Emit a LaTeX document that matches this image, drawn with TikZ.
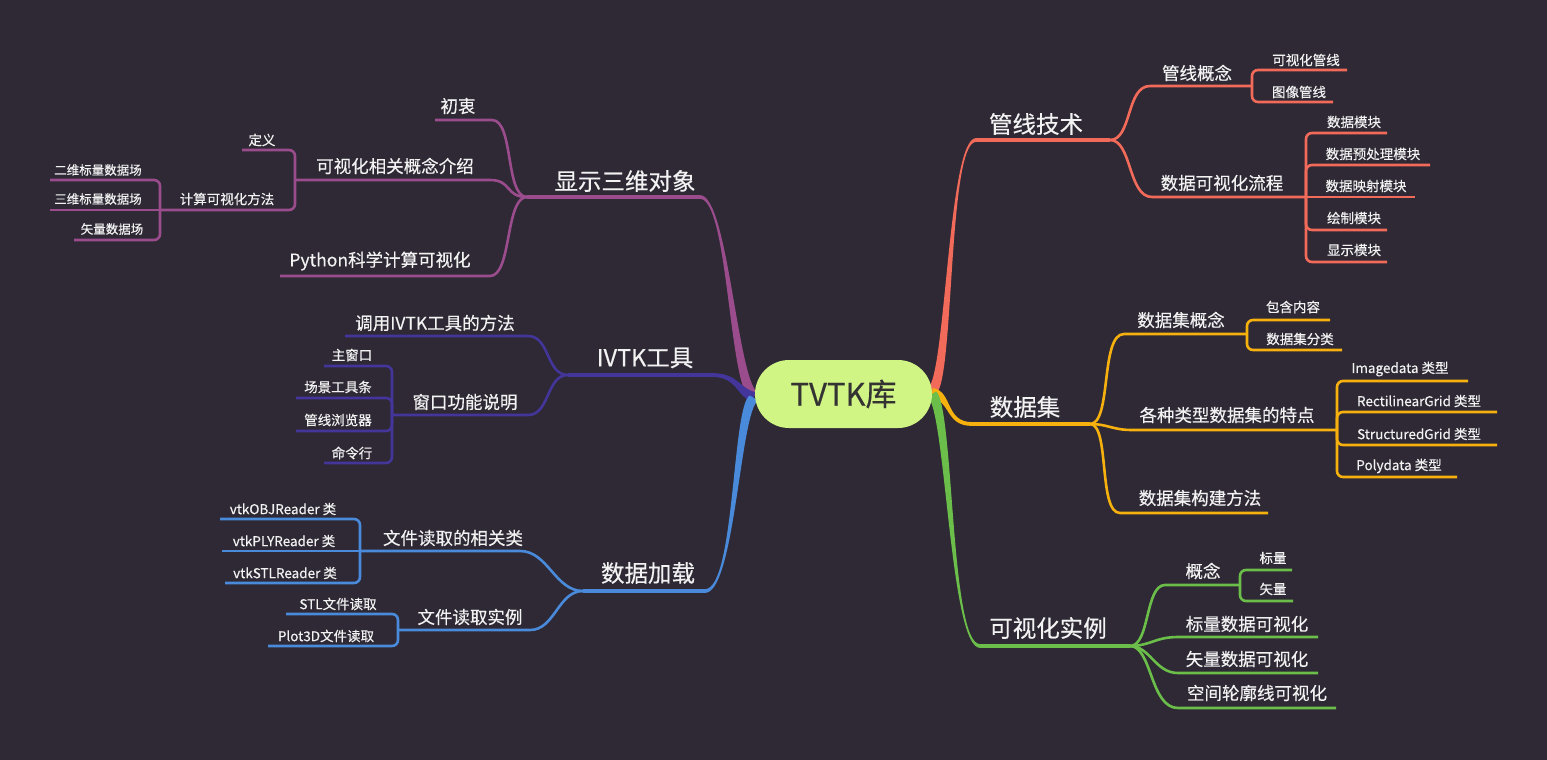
\documentclass[tikz,border=0pt]{standalone}
\usepackage{fontspec}
\usetikzlibrary{calc}
\setmainfont{Noto Sans CJK SC}[FakeBold=0.35]
\definecolor{bg}{HTML}{2E2934}
\definecolor{cP}{HTML}{9A4C8C}
\definecolor{cI}{HTML}{43359A}
\definecolor{cB}{HTML}{4A8ADB}
\definecolor{cR}{HTML}{F26A5A}
\definecolor{cY}{HTML}{F7B10F}
\definecolor{cG}{HTML}{6BBE4A}
\definecolor{ctr}{HTML}{D1F584}
\definecolor{txt}{HTML}{F2F2F2}
\definecolor{txtd}{HTML}{333333}
\tikzset{
  t1/.style={font=\fontsize{23.5}{23.5}\selectfont, text=txt, inner sep=0pt},
  t2/.style={font=\fontsize{17.5}{17.5}\selectfont, text=txt, inner sep=0pt},
  t3/.style={font=\fontsize{13.5}{13.5}\selectfont, text=txt, inner sep=0pt},
  t4/.style={font=\fontsize{12.5}{12.5}\selectfont, text=txt, inner sep=0pt},
  mainln/.style={line width=3.8pt},
  ln/.style={line width=2.6pt},
  brk/.style={line width=2.6pt, rounded corners=6pt},
}
% tapered main branch: colour, P0, C1, C2, P3, offset at start, offset at end
\newcommand\taperbranch[7]{%
  \fill[#1] ($(#2)+(#6)$) .. controls ($(#3)+(#6)$) and ($(#4)+(#7)$) .. ($(#5)+(#7)$)
    -- ($(#5)-(#7)$) .. controls ($(#4)-(#7)$) and ($(#3)-(#6)$) .. ($(#2)-(#6)$) -- cycle;}
\begin{document}
\begin{tikzpicture}[x=1pt,y=-1pt]
\fill[bg] (0,0) rectangle (1547,760);
\useasboundingbox (0,0) rectangle (1547,760);

% ---------- junction coordinates ----------
\coordinate (pA) at (527,197);
\coordinate (iA) at (568,375);
\coordinate (bA) at (583,591);
\coordinate (rA) at (1110,140);
\coordinate (yA) at (1090,424);
\coordinate (gA) at (1130,646);

% ================= LEFT: 显示三维对象 (purple) =================
\taperbranch{cP}{754,396}{733,382}{728,197}{700,197}{4.2,-2.5}{0,-1.9}
\begin{scope}[draw=cP]
\coordinate (pE) at (700,197);
\draw[mainln] (pE) -- (pA);
\draw[ln] (pA) .. controls (505,197) and (514,120) .. (492,120) -- (435,120);
\draw[ln] (pA) .. controls (505,197) and (512,180) .. (490,180) -- (295,180);
\draw[ln] (pA) .. controls (505,197) and (512,276) .. (490,276) -- (280,276);
\coordinate (p2) at (295,180);
\draw[brk] (p2) |- (242,150);
\draw[brk] (p2) |- (160,210);
\coordinate (p3) at (160,210);
\draw[brk] (p3) |- (50,180);
\draw[ln] (p3) -- (50,210);
\draw[brk] (p3) |- (74,240);
\end{scope}
\node[t1] (n1) at (625,181) {显示三维对象};
\node[t2] (n11) at (458,106) {初衷};
\node[t2] (n12) at (395,166) {可视化相关概念介绍};
\node[t2] (n13) at (380,261) {Python科学计算可视化};
\node[t3] (n121) at (262,140) {定义};
\node[t3] (n122) at (227,199) {计算可视化方法};
\node[t4] (n1221) at (98,170) {二维标量数据场};
\node[t4] (n1222) at (98,199) {三维标量数据场};
\node[t4] (n1223) at (112,229) {矢量数据场};

% ================= LEFT: IVTK工具 (indigo) =================
\taperbranch{cI}{754,397}{738,393}{738,375}{712,375}{1.2,-4.85}{0,-1.9}
\begin{scope}[draw=cI]
\coordinate (iE) at (712,375);
\draw[mainln] (iE) -- (iA);
\draw[ln] (iA) .. controls (546,375) and (550,336) .. (528,336) -- (345,336);
\draw[ln] (iA) .. controls (546,375) and (550,415) .. (528,415) -- (392,415);
\coordinate (i2) at (392,415);
\draw[brk] (i2) |- (324,366);
\draw[brk] (i2) |- (296,398);
\draw[brk] (i2) |- (296,431);
\draw[brk] (i2) |- (324,463);
\end{scope}
\node[t1] (n2) at (645,358) {IVTK工具};
\node[t2] (n21) at (435,323) {调用IVTK工具的方法};
\node[t2] (n22) at (465,402) {窗口功能说明};
\node[t3] (n221) at (352,355) {主窗口};
\node[t3] (n222) at (338,387) {场景工具条};
\node[t3] (n223) at (338,420) {管线浏览器};
\node[t3] (n224) at (352,453) {命令行};

% ================= LEFT: 数据加载 (blue) =================
\taperbranch{cB}{754,398}{736,408}{735,591}{705,591}{-4.2,-2.5}{0,-1.9}
\begin{scope}[draw=cB]
\coordinate (bE) at (705,591);
\draw[mainln] (bE) -- (bA);
\draw[ln] (bA) .. controls (555,591) and (548,551) .. (520,551) -- (360,551);
\draw[ln] (bA) .. controls (558,591) and (555,630) .. (530,630) -- (398,630);
\coordinate (b1) at (360,551);
\draw[brk] (b1) |- (220,519);
\draw[ln] (b1) -- (222,551);
\draw[brk] (b1) |- (225,583);
\coordinate (b2) at (398,630);
\draw[brk] (b2) |- (286,614);
\draw[brk] (b2) |- (268,646);
\end{scope}
\node[t1] (n3) at (648,573) {数据加载};
\node[t2] (n31) at (453,538) {文件读取的相关类};
\node[t2] (n32) at (470,617) {文件读取实例};
\node[t3] (n311) at (283,509) {vtkOBJReader 类};
\node[t3] (n312) at (284,541) {vtkPLYReader 类};
\node[t3] (n313) at (285,573) {vtkSTLReader 类};
\node[t3] (n321) at (338,604) {STL文件读取};
\node[t3] (n322) at (326,636) {Plot3D文件读取};

% ================= RIGHT: 管线技术 (coral) =================
\taperbranch{cR}{932,391}{950,378}{948,140}{976,140}{4.2,2.5}{0,1.9}
\begin{scope}[draw=cR]
\coordinate (rE) at (976,140);
\draw[mainln] (rE) -- (rA);
\draw[ln] (rA) .. controls (1132,140) and (1126,86) .. (1150,86) -- (1252,86);
\draw[ln] (rA) .. controls (1132,140) and (1128,197) .. (1152,197) -- (1306,197);
\coordinate (r1) at (1252,86);
\draw[brk] (r1) |- (1347,70);
\draw[brk] (r1) |- (1333,102);
\coordinate (r2) at (1306,197);
\draw[brk] (r2) |- (1387,133);
\draw[brk] (r2) |- (1430,165);
\draw[ln] (r2) -- (1415,197);
\draw[brk] (r2) |- (1387,230);
\draw[brk] (r2) |- (1387,262);
\end{scope}
\node[t1] (n4) at (1036,124) {管线技术};
\node[t2] (n41) at (1197,73) {管线概念};
\node[t2] (n42) at (1222,183) {数据可视化流程};
\node[t3] (n411) at (1306,60) {可视化管线};
\node[t3] (n412) at (1299,92) {图像管线};
\node[t3] (n421) at (1354,122) {数据模块};
\node[t3] (n422) at (1373,154) {数据预处理模块};
\node[t3] (n423) at (1366,186) {数据映射模块};
\node[t3] (n424) at (1354,218) {绘制模块};
\node[t3] (n425) at (1354,250) {显示模块};

% ================= RIGHT: 数据集 (amber) =================
\taperbranch{cY}{932,393}{952,396}{945,424}{972,424}{-0.75,4.95}{0,1.9}
\begin{scope}[draw=cY]
\coordinate (yE) at (972,424);
\draw[mainln] (yE) -- (yA);
\draw[ln] (yA) .. controls (1112,424) and (1100,334) .. (1124,334) -- (1247,334);
\draw[ln] (yA) .. controls (1108,424) and (1112,430) .. (1132,430) -- (1337,430);
\draw[ln] (yA) .. controls (1110,424) and (1098,513) .. (1120,513) -- (1268,513);
\coordinate (y1) at (1247,334);
\draw[brk] (y1) |- (1330,320);
\draw[brk] (y1) |- (1342,350);
\coordinate (y2) at (1337,430);
\draw[brk] (y2) |- (1468,381);
\draw[brk] (y2) |- (1497,412);
\draw[brk] (y2) |- (1497,445);
\draw[brk] (y2) |- (1457,477);
\end{scope}
\node[t1] (n5) at (1025,407) {数据集};
\node[t2] (n51) at (1181,320) {数据集概念};
\node[t2] (n52) at (1227,415) {各种类型数据集的特点};
\node[t2] (n53) at (1200,498) {数据集构建方法};
\node[t3] (n511) at (1293,307) {包含内容};
\node[t3] (n512) at (1300,339) {数据集分类};
\node[t3] (n521) at (1400,369) {Imagedata 类型};
\node[t3] (n522) at (1419,401) {RectilinearGrid 类型};
\node[t3] (n523) at (1419,434) {StructuredGrid 类型};
\node[t3] (n524) at (1399,466) {Polydata 类型};

% ================= RIGHT: 可视化实例 (green) =================
\taperbranch{cG}{932,394}{950,410}{950,646}{980,646}{-4.2,2.5}{0,1.9}
\begin{scope}[draw=cG]
\coordinate (gE) at (980,646);
\draw[mainln] (gE) -- (gA);
\draw[ln] (gA) .. controls (1150,646) and (1145,585) .. (1165,585) -- (1240,585);
\draw[ln] (gA) .. controls (1150,646) and (1155,637) .. (1178,637) -- (1318,637);
\draw[ln] (gA) .. controls (1150,646) and (1155,673) .. (1178,673) -- (1318,673);
\draw[ln] (gA) .. controls (1152,646) and (1150,708) .. (1178,708) -- (1336,708);
\coordinate (g1) at (1240,585);
\draw[brk] (g1) |- (1292,570);
\draw[brk] (g1) |- (1293,601);
\end{scope}
\node[t1] (n6) at (1048,628) {可视化实例};
\node[t2] (n61) at (1203,571) {概念};
\node[t2] (n62) at (1247,624) {标量数据可视化};
\node[t2] (n63) at (1247,659) {矢量数据可视化};
\node[t2] (n64) at (1257,693) {空间轮廓线可视化};
\node[t3] (n611) at (1273,558) {标量};
\node[t3] (n612) at (1273,589) {矢量};

% ================= root =================
\node[fill=ctr, rounded corners=34pt, minimum width=177pt, minimum height=68pt,
      inner sep=0pt, font=\fontsize{31}{31}\selectfont, text=txtd] (root) at (843.5,394) {TVTK库};
\end{tikzpicture}
\end{document}
